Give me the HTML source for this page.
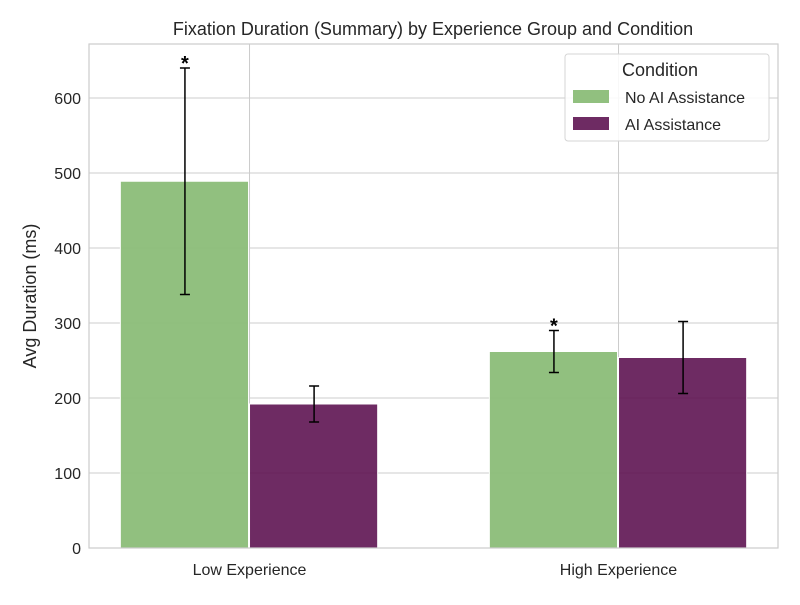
<!DOCTYPE html>
<html><head><meta charset="utf-8"><style>body{margin:0;background:#fff}svg{font-family:"Liberation Sans",sans-serif}</style></head>
<body>
<svg id="c" width="800" height="600"></svg>
<script>
const categories=["Low Experience","High Experience"];
const noAI=[489,262];
const noAIErr=[151,28];
const ai=[192,254];
const aiErr=[24,48];
const sigNoAI=[true,true];
const yTicks=[0,100,200,300,400,500,600];
const seriesNames=["No AI Assistance","AI Assistance"];
const L=89,R=778,T=44,B=548;
const y=v=>B-v*0.75;
const x=v=>L+(v+0.435)*369;
const bw=0.35;
const svg=document.getElementById('c');
const NS="http://www.w3.org/2000/svg";
function mk(t,a,p){const e=document.createElementNS(NS,t);for(const k in a)e.setAttribute(k,a[k]);(p||svg).appendChild(e);return e;}
let g=mk('g',{});

yTicks.forEach(t=>{mk('line',{x1:L,x2:R,y1:y(t),y2:y(t),stroke:'#ccc','stroke-width':1},g);
 const tx=mk('text',{x:L-8,y:y(t)+6,'text-anchor':'end','font-size':16,fill:'#262626'});tx.textContent=t;
 });
categories.forEach((c,i)=>{mk('line',{x1:x(i),x2:x(i),y1:T,y2:B,stroke:'#ccc','stroke-width':1},g);
 const tx=mk('text',{x:x(i),y:575,'text-anchor':'middle','font-size':16,fill:'#262626'});tx.textContent=c;
 });
const cols=["#8bbd78","#5e1452"];
[[noAI,noAIErr],[ai,aiErr]].forEach(([vals,errs],s)=>{
 vals.forEach((v,i)=>{
  const x0=x(i-bw+s*bw);
  const r=mk('rect',{x:x0,y:y(v),width:bw*369-1,height:B-y(v),fill:cols[s],'fill-opacity':s?0.9:0.95,stroke:'#fff','stroke-width':1});
  
  const cx=x(i-bw/2+s*bw);
  const eg=mk('g',{stroke:'#000','stroke-width':1.5});
  
  mk('line',{x1:cx,x2:cx,y1:y(v-errs[i]),y2:y(v+errs[i])},eg);
  mk('line',{x1:cx-5,x2:cx+5,y1:y(v-errs[i]),y2:y(v-errs[i])},eg);
  mk('line',{x1:cx-5,x2:cx+5,y1:y(v+errs[i]),y2:y(v+errs[i])},eg);
  if(s===0&&sigNoAI[i]){const st=mk('text',{x:cx,y:y(v+errs[i])+2,'text-anchor':'middle','font-size':20,'font-weight':'bold'});st.textContent='*';
   }
 });
});
const fr=mk('rect',{x:L,y:T,width:R-L,height:B-T,fill:'none',stroke:'#ccc','stroke-width':1.2});

const ti=mk('text',{x:433,y:35,'text-anchor':'middle','font-size':18,fill:'#262626'});ti.textContent='Fixation Duration (Summary) by Experience Group and Condition';

const yt=mk('text',{x:0,y:0,'text-anchor':'middle','font-size':18,fill:'#262626',transform:'translate(36,296) rotate(-90)'});yt.textContent='Avg Duration (ms)';

const lg=mk('g',{});
mk('rect',{x:565,y:54,width:204,height:87,rx:3,fill:'#fff','fill-opacity':0.85,stroke:'#d5d5d5'},lg);
const lt=mk('text',{x:660,y:76,'text-anchor':'middle','font-size':18,fill:'#262626'},lg);lt.textContent='Condition';

seriesNames.forEach((n,s)=>{
 const e=mk('g',{},lg);
 mk('rect',{x:573,y:90+s*27,width:36,height:13,fill:cols[s],'fill-opacity':s?0.9:0.95},e);
 const t=mk('text',{x:625,y:103+s*27,'font-size':16,fill:'#262626'},e);t.textContent=n;
});
</script>
</body></html>
